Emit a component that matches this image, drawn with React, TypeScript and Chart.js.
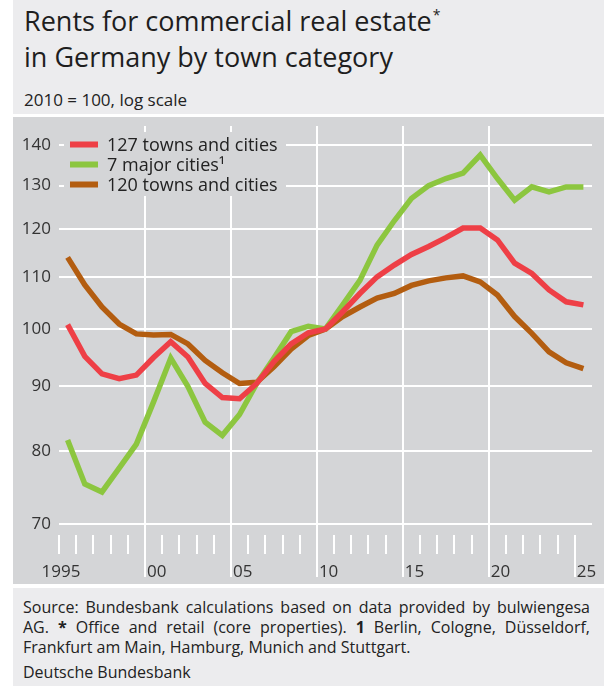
import React, { useEffect, useRef } from "react";
import { Chart, registerables } from "chart.js";

Chart.register(...registerables);

// ---------- data ----------
const years = [
  1995, 1996, 1997, 1998, 1999, 2000, 2001, 2002, 2003, 2004,
  2005, 2006, 2007, 2008, 2009, 2010, 2011, 2012, 2013, 2014,
  2015, 2016, 2017, 2018, 2019, 2020, 2021, 2022, 2023, 2024, 2025,
];
const towns127 = [
  100.8, 95.1, 92.1, 91.3, 91.9, 94.9, 97.7, 95.0, 90.5, 88.2,
  88.0, 90.5, 94.2, 97.3, 99.3, 100.0, 103.2, 106.7, 110.0, 112.4,
  114.6, 116.3, 118.2, 120.3, 120.3, 117.7, 112.8, 110.7, 107.4, 105.1, 104.5,
];
const majorCities7 = [
  81.6, 75.3, 74.2, 77.5, 81.0, 87.5, 94.8, 90.0, 84.3, 82.3,
  85.5, 90.5, 94.8, 99.5, 100.5, 100.0, 104.5, 109.3, 116.6, 121.9,
  127.0, 130.0, 131.7, 133.0, 137.5, 131.7, 126.6, 129.7, 128.5, 129.7, 129.7,
];
const towns120 = [
  114.0, 108.4, 104.1, 100.9, 99.1, 98.9, 99.0, 97.3, 94.4, 92.3,
  90.5, 90.7, 93.3, 96.4, 98.8, 100.0, 102.3, 104.1, 105.8, 106.7,
  108.3, 109.2, 109.8, 110.2, 109.0, 106.4, 102.3, 99.2, 95.9, 94.0, 93.0,
];
const seriesLabels = ["127 towns and cities", "7 major cities\u00B9", "120 towns and cities"];
const seriesColors = ["#ee3f46", "#8cc63f", "#b35d10"];

const yTicks = [70, 80, 90, 100, 110, 120, 130, 140];
const majorGridYears = [2000, 2005, 2010, 2015, 2020];
const xLabelYears = [1995, 2000, 2005, 2010, 2015, 2020, 2025];
const xLabelTexts = ["1995", "00", "05", "10", "15", "20", "25"];

const FONT = "'Open Sans', 'Noto Sans', sans-serif";
const PANEL = "#d4d5d7";
const BAND = "#ececee";

const overlayPlugin = {
  id: "overlay",
  beforeDatasetsDraw(chart: any) {
    const ctx = chart.ctx;
    ctx.save();
    ctx.fillStyle = PANEL;
    ctx.fillRect(51, 15, 222, 64);
    const rows = [27.5, 47.5, 67.5];
    chart.data.datasets.forEach((ds: any, i: number) => {
      ctx.fillStyle = ds.borderColor;
      ctx.fillRect(57, rows[i] - 3, 28, 6);
      ctx.fillStyle = "#222";
      ctx.font = `18px ${FONT}`;
      ctx.textAlign = "left";
      ctx.textBaseline = "middle";
      ctx.fillText(ds.label, 94, rows[i] + 1);
    });
    ctx.restore();
  },
  afterDraw(chart: any) {
    const ctx = chart.ctx;
    const xs = chart.scales.x;
    ctx.save();
    ctx.strokeStyle = "#ffffff";
    ctx.lineWidth = 2;
    years.forEach((yr) => {
      const px = Math.round(xs.getPixelForValue(yr));
      ctx.beginPath();
      ctx.moveTo(px, 418);
      ctx.lineTo(px, yr === 2025 ? 460 : 437);
      ctx.stroke();
    });
    ctx.fillStyle = "#333";
    ctx.font = `17px ${FONT}`;
    ctx.textBaseline = "middle";
    xLabelYears.forEach((yr, i) => {
      const px = xs.getPixelForValue(yr);
      if (i === 0) {
        ctx.textAlign = "center";
        ctx.fillText(xLabelTexts[i], px + 2, 455);
      } else {
        ctx.textAlign = "left";
        ctx.fillText(xLabelTexts[i], px + 2, 455);
      }
    });
    ctx.restore();
  },
};

function ChartCanvas() {
  const ref = useRef<HTMLCanvasElement | null>(null);
  useEffect(() => {
    if (!ref.current) return;
    const mk = (vals: number[]) => vals.map((v, i) => ({ x: years[i] + 0.5, y: v }));
    const chart = new Chart(ref.current, {
      type: "line",
      data: {
        datasets: [
          { label: seriesLabels[0], data: mk(towns127), borderColor: seriesColors[0], backgroundColor: seriesColors[0] },
          { label: seriesLabels[1], data: mk(majorCities7), borderColor: seriesColors[1], backgroundColor: seriesColors[1] },
          { label: seriesLabels[2], data: mk(towns120), borderColor: seriesColors[2], backgroundColor: seriesColors[2] },
        ],
      },
      options: {
        responsive: false,
        animation: false,
        layout: { padding: { left: 0, right: 12, top: 9, bottom: 7 } },
        plugins: { legend: { display: false }, tooltip: { enabled: false } },
        elements: {
          point: { radius: 0 },
          line: { borderWidth: 5.5, tension: 0, borderJoinStyle: "miter" },
        },
        scales: {
          x: {
            type: "linear",
            min: 1995,
            max: 2026,
            afterBuildTicks: (s: any) => {
              s.ticks = majorGridYears.map((v) => ({ value: v }));
            },
            ticks: { display: false },
            grid: { color: "#ffffff", lineWidth: 2, drawTicks: false },
            border: { display: false },
            afterFit: (s: any) => {
              s.height = 0;
              s.paddingLeft = 0;
              s.paddingRight = 0;
              s.paddingTop = 0;
              s.paddingBottom = 0;
            },
          },
          y: {
            type: "logarithmic",
            min: 63.5,
            max: 145,
            afterBuildTicks: (s: any) => {
              s.ticks = yTicks.map((v) => ({ value: v }));
            },
            ticks: {
              autoSkip: false,
              padding: 8,
              color: "#333",
              font: { family: FONT, size: 17 },
              callback: (v: any) => String(v),
            },
            grid: { color: "#ffffff", lineWidth: 2, drawTicks: false },
            border: { display: false },
            afterFit: (s: any) => {
              s.width = 46;
              s.paddingTop = 0;
              s.paddingBottom = 0;
              s.paddingLeft = 0;
              s.paddingRight = 0;
            },
          },
        },
      } as any,
      plugins: [overlayPlugin],
    });
    return () => chart.destroy();
  }, []);
  return <canvas ref={ref} width={591} height={467} style={{ display: "block" }} />;
}

export default function App() {
  return (
    <div style={{ position: "absolute", left: 0, top: 0, width: 604, height: 686, background: "#fff", fontFamily: FONT, overflow: "hidden" }}>
      <div style={{ position: "absolute", left: 13, top: 0, width: 591, height: 114, background: BAND }} />
      <div style={{ position: "absolute", left: 24, top: 3, fontSize: 27, lineHeight: "36px", color: "#1e1e1e", whiteSpace: "nowrap" }}>
        <div>
          Rents for commercial real estate
          <span style={{ fontSize: 14, lineHeight: 0, position: "relative", top: -11, marginLeft: 1 }}>*</span>
        </div>
        <div>in Germany by town category</div>
      </div>
      <div style={{ position: "absolute", left: 24, top: 88, fontSize: 17, color: "#222", whiteSpace: "nowrap" }}>
        2010 = 100, log scale
      </div>
      <div style={{ position: "absolute", left: 13, top: 117, width: 591, height: 467, background: PANEL }}>
        <ChartCanvas />
      </div>
      <div style={{ position: "absolute", left: 13, top: 588, width: 591, height: 98, background: BAND }} />
      <div style={{ position: "absolute", left: 23, top: 597, width: 567, fontSize: 16, lineHeight: "20px", color: "#222" }}>
        <div style={{ textAlign: "justify", textAlignLast: "justify", whiteSpace: "nowrap" }}>
          Source: Bundesbank calculations based on data provided by bulwiengesa
        </div>
        <div style={{ textAlign: "justify", textAlignLast: "justify", whiteSpace: "nowrap" }}>
          AG. <b>*</b> Office and retail (core properties). <b>1</b> Berlin, Cologne, Düsseldorf,
        </div>
        <div style={{ whiteSpace: "nowrap" }}>Frankfurt am Main, Hamburg, Munich and Stuttgart.</div>
        <div style={{ marginTop: 5, whiteSpace: "nowrap" }}>Deutsche Bundesbank</div>
      </div>
    </div>
  );
}
